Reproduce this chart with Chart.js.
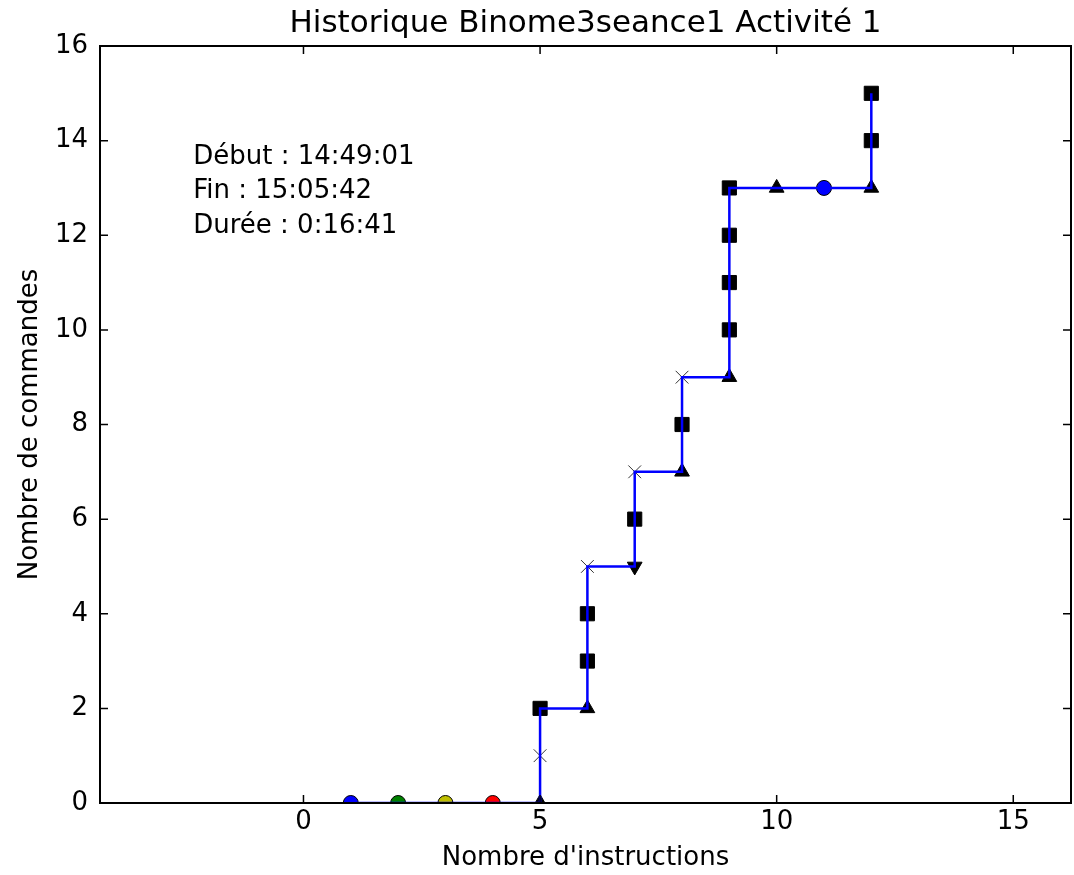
<!DOCTYPE html>
<html lang="fr">
<head>
    <meta charset="UTF-8">
    <title>Historique Binome3seance1</title>
    <script src="https://cdn.jsdelivr.net/npm/chart.js"></script>
    <style>
        body { margin: 0; background: #fff; overflow: hidden; }
    </style>
</head>
<body>
    <canvas id="histochart" width="1074" height="875"></canvas>
    <script>
        // Data
        const instructions = [1, 2, 3, 4, 5, 5, 5, 6, 6, 6, 6, 7, 7, 7, 8, 8, 8, 9, 9, 9, 9, 9, 10, 11, 12, 12, 12];
        const commandes    = [0, 0, 0, 0, 0, 1, 2, 2, 3, 4, 5, 5, 6, 7, 7, 8, 9, 9, 10, 11, 12, 13, 13, 13, 13, 14, 15];
        // o circle, ^ triangle up, v triangle down, s square, x cross
        const markers      = ['o', 'o', 'o', 'o', '^', 'x', 's', '^', 's', 's', 'x', 'v', 's', 'x', '^', 's', 'x', '^', 's', 's', 's', 's', '^', 'o', '^', 's', 's'];
        const markerColors = ['b', 'g', 'y', 'r', 'k', 'k', 'k', 'k', 'k', 'k', 'k', 'k', 'k', 'k', 'k', 'k', 'k', 'k', 'k', 'k', 'k', 'k', 'k', 'b', 'k', 'k', 'k'];
        const xTicks = [0, 5, 10, 15];
        const yTicks = [0, 2, 4, 6, 8, 10, 12, 14, 16];
        const infoLines = ['Début : 14:49:01', 'Fin : 15:05:42', 'Durée : 0:16:41'];

        const colorMap = { b: '#0000ff', g: '#008000', y: '#bfbf00', r: '#ff0000', k: '#000000' };
        const FONT = 'DejaVu Sans';

        const points = instructions.map((x, i) => ({ x: x, y: commandes[i] }));

        function styleOf(m) {
            if (m === 'o') return 'circle';
            if (m === 's') return 'rect';
            if (m === 'x') return 'crossRot';
            return 'triangle';
        }
        function radiusOf(m) {
            if (m === 'o') return 7.5;
            if (m === 's') return 10;
            if (m === 'x') return 9;
            return 8.5;
        }

        // frame, inward ticks and the text block
        const framePlugin = {
            id: 'frame',
            afterDatasetsDraw(chart) {
                const ctx = chart.ctx;
                const a = chart.chartArea;
                const xs = chart.scales.x, ys = chart.scales.y;
                ctx.save();
                ctx.strokeStyle = '#000';
                ctx.lineWidth = 1.5;
                ctx.beginPath();
                xTicks.forEach(v => {
                    const px = xs.getPixelForValue(v);
                    ctx.moveTo(px, a.bottom); ctx.lineTo(px, a.bottom - 8);
                    ctx.moveTo(px, a.top); ctx.lineTo(px, a.top + 8);
                });
                yTicks.forEach(v => {
                    const py = ys.getPixelForValue(v);
                    ctx.moveTo(a.left, py); ctx.lineTo(a.left + 8, py);
                    ctx.moveTo(a.right, py); ctx.lineTo(a.right - 8, py);
                });
                ctx.stroke();
                ctx.lineWidth = 2;
                ctx.strokeRect(a.left, a.top, a.right - a.left, a.bottom - a.top);

                ctx.fillStyle = '#000';
                ctx.font = '26px "' + FONT + '"';
                ctx.textBaseline = 'middle';
                ctx.textAlign = 'left';
                const tx = xs.getPixelForValue(-2.33);
                const ty = ys.getPixelForValue(13.65);
                infoLines.forEach((t, i) => ctx.fillText(t, tx, ty + i * 34.5));
                ctx.restore();
            }
        };

        const ctx = document.getElementById('histochart').getContext('2d');
        new Chart(ctx, {
            type: 'line',
            data: {
                datasets: [{
                    label: 'ligne',
                    data: points,
                    borderColor: '#0000ff',
                    borderWidth: 2.5,
                    pointRadius: 0,
                    fill: false,
                    order: 0
                }, {
                    label: 'marqueurs',
                    data: points,
                    showLine: false,
                    pointStyle: markers.map(styleOf),
                    pointRadius: markers.map(radiusOf),
                    pointRotation: markers.map(m => m === 'v' ? 180 : 0),
                    pointBackgroundColor: markerColors.map(c => colorMap[c]),
                    pointBorderColor: markers.map(m => m === 'x' ? '#333' : '#000'),
                    pointBorderWidth: 1,
                    order: 1
                }]
            },
            options: {
                responsive: false,
                animation: false,
                events: [],
                layout: { autoPadding: false, padding: { left: 0, right: 3, top: 0, bottom: 0 } },
                plugins: {
                    legend: { display: false },
                    tooltip: { enabled: false },
                    title: {
                        display: true,
                        fullSize: false,
                        text: 'Historique Binome3seance1 Activité 1',
                        color: '#000',
                        font: { family: FONT, size: 31, weight: 'normal' },
                        padding: { top: 5, bottom: 3.8 }
                    }
                },
                scales: {
                    x: {
                        type: 'linear',
                        min: -4.3,
                        max: 16.22,
                        afterBuildTicks: s => { s.ticks = xTicks.map(v => ({ value: v })); },
                        afterFit: s => { s.height = 72; s.paddingLeft = 0; s.paddingRight = 0; },
                        grid: { display: false, drawTicks: false },
                        border: { display: false },
                        ticks: { color: '#000', font: { family: FONT, size: 26 }, padding: 4, maxRotation: 0 },
                        title: {
                            display: true,
                            text: "Nombre d'instructions",
                            color: '#000',
                            font: { family: FONT, size: 26 },
                            padding: { top: 0, bottom: 1 }
                        }
                    },
                    y: {
                        type: 'linear',
                        min: 0,
                        max: 16,
                        afterBuildTicks: s => { s.ticks = yTicks.map(v => ({ value: v })); },
                        afterFit: s => { s.width = 100; s.paddingTop = 0; s.paddingBottom = 0; },
                        grid: { display: false, drawTicks: false },
                        border: { display: false },
                        ticks: { color: '#000', font: { family: FONT, size: 26 }, padding: 12 },
                        title: {
                            display: true,
                            text: 'Nombre de commandes',
                            color: '#000',
                            font: { family: FONT, size: 26 },
                            padding: { top: 15, bottom: 0 }
                        }
                    }
                }
            },
            plugins: [framePlugin]
        });
    </script>
</body>
</html>
